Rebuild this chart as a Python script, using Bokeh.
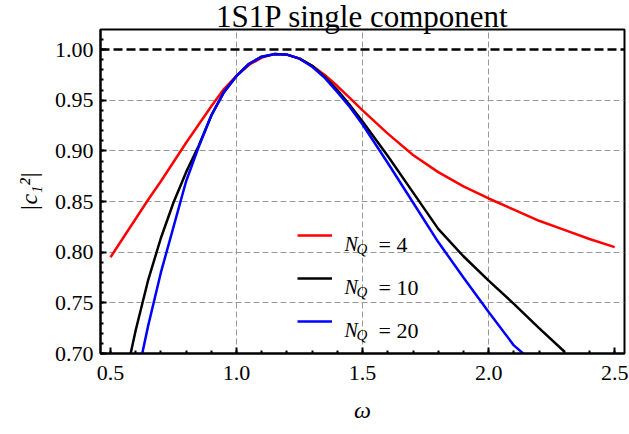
from bokeh.plotting import figure
from bokeh.models import (Range1d, FixedTicker, SingleIntervalTicker, Span, Legend,
                          LegendItem, Label, PrintfTickFormatter)
from bokeh.embed import file_html
from bokeh.resources import INLINE

# ---------------- data ----------------
x_nq4 = [0.50, 0.55, 0.60, 0.65, 0.70, 0.75, 0.80, 0.85, 0.90, 0.95, 1.00, 1.05, 1.10,
         1.15, 1.20, 1.25, 1.30, 1.35, 1.40, 1.45, 1.50, 1.60, 1.70, 1.80, 1.90, 2.00,
         2.10, 2.20, 2.30, 2.40, 2.50]
y_nq4 = [0.795, 0.814, 0.833, 0.852, 0.870, 0.889, 0.908, 0.926, 0.944, 0.961, 0.974,
         0.985, 0.992, 0.9955, 0.995, 0.991, 0.984, 0.975, 0.964, 0.952, 0.940, 0.917,
         0.896, 0.879, 0.865, 0.853, 0.842, 0.831, 0.822, 0.813, 0.805]

x_nq10 = [0.58, 0.60, 0.65, 0.70, 0.75, 0.80, 0.85, 0.90, 0.95, 1.00, 1.05, 1.10, 1.15,
          1.20, 1.25, 1.30, 1.35, 1.40, 1.45, 1.50, 1.60, 1.70, 1.80, 1.90, 2.00, 2.10,
          2.20, 2.30]
y_nq10 = [0.700, 0.723, 0.773, 0.814, 0.849, 0.879, 0.905, 0.935, 0.958, 0.974, 0.986,
          0.993, 0.9955, 0.995, 0.991, 0.984, 0.973, 0.960, 0.945, 0.929, 0.895, 0.859,
          0.823, 0.796, 0.772, 0.749, 0.725, 0.702]

x_nq20 = [0.626, 0.65, 0.70, 0.75, 0.80, 0.85, 0.90, 0.95, 1.00, 1.05, 1.10, 1.15, 1.20,
          1.25, 1.30, 1.35, 1.40, 1.45, 1.50, 1.60, 1.70, 1.80, 1.90, 2.00, 2.10, 2.137]
y_nq20 = [0.700, 0.728, 0.780, 0.825, 0.870, 0.904, 0.935, 0.958, 0.974, 0.986, 0.993,
          0.9955, 0.995, 0.991, 0.983, 0.972, 0.958, 0.943, 0.926, 0.888, 0.849, 0.810,
          0.775, 0.741, 0.708, 0.700]

reference_level = 1.0
series_names = ["4", "10", "20"]
series_colors = ["#ff0000", "#000000", "#0000ff"]
title_text = "1S1P single component"

x_grid = [1.0, 1.5, 2.0]
y_grid = [0.75, 0.80, 0.85, 0.90, 0.95]

# ---------------- layout ----------------
X0, X1 = 0.4604, 2.5389
Y0, Y1 = 0.70, 1.0198
FL, FR, FT, FB = 100, 624, 29, 353
FONT = "Liberation Serif"

p = figure(width=629, height=434, output_backend="svg", toolbar_location=None,
           x_range=Range1d(X0, X1), y_range=Range1d(Y0, Y1),
           min_border_left=FL, min_border_right=629 - FR,
           min_border_top=FT, min_border_bottom=434 - FB,
           title=title_text)
p.background_fill_color = "white"
p.border_fill_color = "white"
p.outline_line_color = "black"
p.outline_line_width = 2

p.title.text_font = FONT
p.title.text_font_size = "31px"
p.title.text_font_style = "normal"
p.title.text_color = "black"
p.title.align = "center"
p.title.standoff = -8
p.title.offset = 0

p.xaxis.ticker = SingleIntervalTicker(interval=0.5, num_minor_ticks=5)
p.yaxis.ticker = SingleIntervalTicker(interval=0.05, num_minor_ticks=5)
p.xaxis.formatter = PrintfTickFormatter(format="%.1f")
p.yaxis.formatter = PrintfTickFormatter(format="%.2f")
for ax in (p.xaxis[0], p.yaxis[0]):
    ax.major_tick_in = 6
    ax.major_tick_out = 0
    ax.minor_tick_in = 3
    ax.minor_tick_out = 0
    ax.axis_line_width = 2
    ax.axis_line_color = "black"
    ax.major_tick_line_width = 2
    ax.minor_tick_line_width = 2
    ax.major_tick_line_color = "black"
    ax.minor_tick_line_color = "black"
    ax.major_label_text_font = FONT
    ax.major_label_text_font_size = "22px"
    ax.major_label_text_color = "black"
    ax.axis_label_text_font = FONT
    ax.axis_label_text_font_size = "24px"
    ax.axis_label_text_font_style = "italic"
    ax.axis_label_text_color = "black"
p.xaxis.major_label_standoff = 12
p.yaxis.major_label_standoff = 7
p.xaxis.axis_label = "ω"
p.yaxis.axis_label = "|c₁²|"
p.xaxis.axis_label_standoff = 14
p.yaxis.axis_label_standoff = 10

p.xgrid.ticker = FixedTicker(ticks=x_grid)
p.ygrid.ticker = FixedTicker(ticks=y_grid)
for g in (p.xgrid[0], p.ygrid[0]):
    g.grid_line_color = "#999999"
    g.grid_line_dash = "6 3"
    g.grid_line_width = 1

p.add_layout(Span(location=reference_level, dimension="width", line_color="black",
                  line_width=2.5, line_dash="9 4"))

xs = [x_nq4, x_nq10, x_nq20]
ys = [y_nq4, y_nq10, y_nq20]
renderers = []
for xv, yv, c in zip(xs, ys, series_colors):
    renderers.append(p.line(xv, yv, line_color=c, line_width=2.5))

legend = Legend(items=[LegendItem(label=" ", renderers=[r]) for r in renderers],
                location=(197, 22), padding=0, margin=0, spacing=23,
                glyph_width=35, glyph_height=20, label_height=20, label_width=0,
                label_standoff=0, border_line_color=None, background_fill_alpha=0)
p.add_layout(legend)


def px_to_x(px):
    return X0 + (px - FL) * (X1 - X0) / (FR - FL)


def py_to_y(py):
    return Y0 + (FB - py) * (Y1 - Y0) / (FB - FT)


row_centers = [235, 278, 321]
for name, cy in zip(series_names, row_centers):
    p.add_layout(Label(x=px_to_x(344), y=py_to_y(cy + 8.7), text="N",
                       text_font=FONT, text_font_size="20px", text_font_style="italic",
                       text_baseline="alphabetic", text_align="left", text_color="black"))
    p.add_layout(Label(x=px_to_x(356), y=py_to_y(cy + 13), text="Q",
                       text_font=FONT, text_font_size="15px", text_font_style="italic",
                       text_baseline="alphabetic", text_align="left", text_color="black"))
    p.add_layout(Label(x=px_to_x(378), y=py_to_y(cy + 8.7), text="= " + name,
                       text_font=FONT, text_font_size="22px", text_font_style="normal",
                       text_baseline="alphabetic", text_align="left", text_color="black"))

open("out.html", "w").write(file_html(p, INLINE))
